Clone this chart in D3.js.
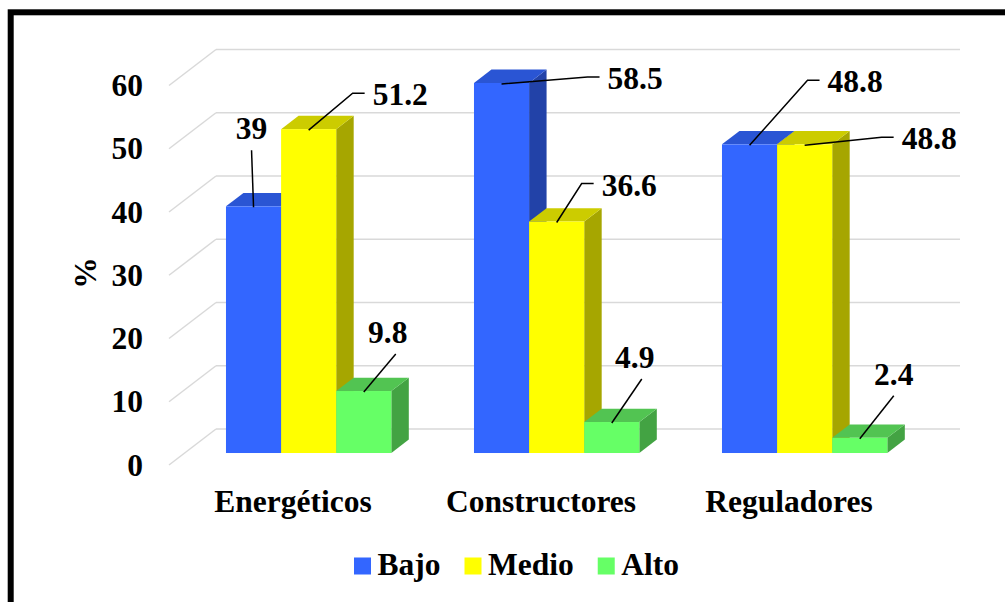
<!DOCTYPE html>
<html>
<head>
<meta charset="utf-8">
<script src="https://cdn.jsdelivr.net/npm/d3@7"></script>
<style>
html, body { margin: 0; padding: 0; background: #fff; overflow: hidden; }
svg text { font-family: "Liberation Serif", "Times New Roman", Times, serif; font-weight: bold; }
</style>
</head>
<body>
<div id="chart"></div>
<script>
const categories = ["Energéticos", "Constructores", "Reguladores"];
const seriesNames = ["Bajo", "Medio", "Alto"];
const bajo = [39, 58.5, 48.8];
const medio = [51.2, 36.6, 48.8];
const alto = [9.8, 4.9, 2.4];
const yTicks = [0, 10, 20, 30, 40, 50, 60];

const frontColors = ["#3366ff", "#ffff00", "#66ff66"];
const topColors = ["#2a55d4", "#cccc00", "#52c452"];
const sideColors = ["#2242a8", "#a6a600", "#43a343"];

// leader line elbow offset from the bar top, label side, text shift
const labelNudge = [
    [[-2, -57, "up", 0], [86, -7, "side"], [58, -65, "side"]],
    [[44, -37, "side"], [25, -39, "side"], [77, -8, "side"]],
    [[32, -38, "up", -8], [30, -44, "up", -7], [34, -43, "up", 0]]
];

const W = 1005, H = 602;
const fontSize = 31.5;
const fontFamily = "'Liberation Serif', 'Times New Roman', Times, serif";
const series = [bajo, medio, alto];

// oblique 3d: z=0 back wall, z=1 front of floor
const floorDx = -47, floorDy = 36;
const proj = (z) => ({ dx: floorDx * z, dy: floorDy * z });
const front = proj(0.667), back = proj(0.295);
const depthDx = back.dx - front.dx, depthDy = back.dy - front.dy;

const svg = d3.select("#chart").append("svg")
    .attr("width", W)
    .attr("height", H)
    .attr("font-family", fontFamily)
    .attr("font-weight", "bold");

svg.append("rect")
    .attr("width", W).attr("height", H)
    .attr("fill", "#fff");

const y = d3.scaleLinear().domain([0, 60]).range([429, 49.5]);
const x = d3.scaleBand().domain(categories).range([216, 960]);
const xs = d3.scaleBand().domain(seriesNames)
    .range([x.bandwidth() / 6, x.bandwidth() * 5 / 6]);

// walls
const grid = svg.append("g")
    .attr("stroke", "#d9d9d9")
    .attr("stroke-width", 1.5)
    .attr("fill", "none");
grid.selectAll(".back")
    .data(yTicks)
    .enter()
    .append("line")
    .attr("x1", x.range()[0]).attr("x2", x.range()[1])
    .attr("y1", d => y(d)).attr("y2", d => y(d));
grid.selectAll(".side")
    .data(yTicks)
    .enter()
    .append("line")
    .attr("x1", x.range()[0]).attr("y1", d => y(d))
    .attr("x2", x.range()[0] + floorDx).attr("y2", d => y(d) + floorDy);

// bars
const bars = [];
categories.forEach((c, ci) => {
    seriesNames.forEach((s, si) => {
        bars.push({ c, ci, s, si, v: series[si][ci] });
    });
});

const w = xs.bandwidth();
const barG = svg.append("g");
bars.forEach(d => {
    const x0 = x(d.c) + xs(d.s) + front.dx;
    const yt = y(d.v) + front.dy;
    const yb = y(0) + front.dy;
    const g = barG.append("g");
    g.append("path")
        .attr("d", d3.line()([[x0 + w, yt], [x0 + w + depthDx, yt + depthDy], [x0 + w + depthDx, yb + depthDy], [x0 + w, yb]]))
        .attr("fill", sideColors[d.si]);
    g.append("path")
        .attr("d", d3.line()([[x0, yt], [x0 + w, yt], [x0 + w + depthDx, yt + depthDy], [x0 + depthDx, yt + depthDy]]))
        .attr("fill", topColors[d.si]);
    g.append("rect")
        .attr("x", x0).attr("y", yt)
        .attr("width", w).attr("height", yb - yt)
        .attr("fill", frontColors[d.si]);
});

// data labels
const labelG = svg.append("g");
bars.forEach(d => {
    const [ndx, ndy, side, tdx] = labelNudge[d.si][d.ci];
    const ax = x(d.c) + xs(d.s) + front.dx + w / 2;
    const ay = y(d.v) + front.dy + 1;
    const ex = ax + ndx, ey = ay + ndy;
    const pts = [[ax, ay], [ex, ey]];
    const t = labelG.append("text")
        .attr("font-size", fontSize)
        .attr("fill", "#000")
        .text(d.v);
    if (side === "side") {
        pts.push([ex + 12, ey]);
        t.attr("x", ex + 20).attr("y", ey + 12);
    } else {
        t.attr("x", ex + tdx).attr("y", ey - 11).attr("text-anchor", "middle");
    }
    labelG.append("path")
        .attr("d", d3.line()(pts))
        .attr("fill", "none")
        .attr("stroke", "#000")
        .attr("stroke-width", 1.5);
});

// axes in the front plane
const yFront = y.copy().range(y.range().map(v => v + floorDy));
const yAxis = svg.append("g")
    .attr("transform", "translate(151,0)")
    .call(d3.axisLeft(yFront).tickValues(yTicks).tickSize(0).tickPadding(8));
yAxis.select(".domain").remove();

const xFront = x.copy().range(x.range().map(v => v + floorDx));
const xAxis = svg.append("g")
    .attr("transform", "translate(0,489.5)")
    .call(d3.axisBottom(xFront).tickSize(0).tickPadding(0));
xAxis.select(".domain").remove();

[yAxis, xAxis].forEach(a => {
    a.attr("font-family", fontFamily).attr("font-size", fontSize);
    a.selectAll("text").attr("fill", "#000");
});

svg.append("text")
    .attr("transform", "translate(96,273) rotate(-90)")
    .attr("text-anchor", "middle")
    .attr("font-size", fontSize)
    .text("%");

// legend
const legend = svg.append("g").attr("transform", "translate(354,575)");
let lx = 0;
seriesNames.forEach((s, i) => {
    const item = legend.append("g").attr("transform", "translate(" + lx + ",0)");
    item.append("rect")
        .attr("x", 0).attr("y", -17.5)
        .attr("width", 17).attr("height", 17)
        .attr("fill", frontColors[i]);
    const t = item.append("text")
        .attr("x", 23.5).attr("y", 0)
        .attr("font-size", fontSize)
        .text(s);
    lx += 23.5 + t.node().getComputedTextLength() + 24;
});

// outer frame (cut off at right and bottom)
svg.append("rect")
    .attr("x", 10.7).attr("y", 12.3)
    .attr("width", 1100).attr("height", 700)
    .attr("fill", "none")
    .attr("stroke", "#000")
    .attr("stroke-width", 6);
</script>
</body>
</html>
